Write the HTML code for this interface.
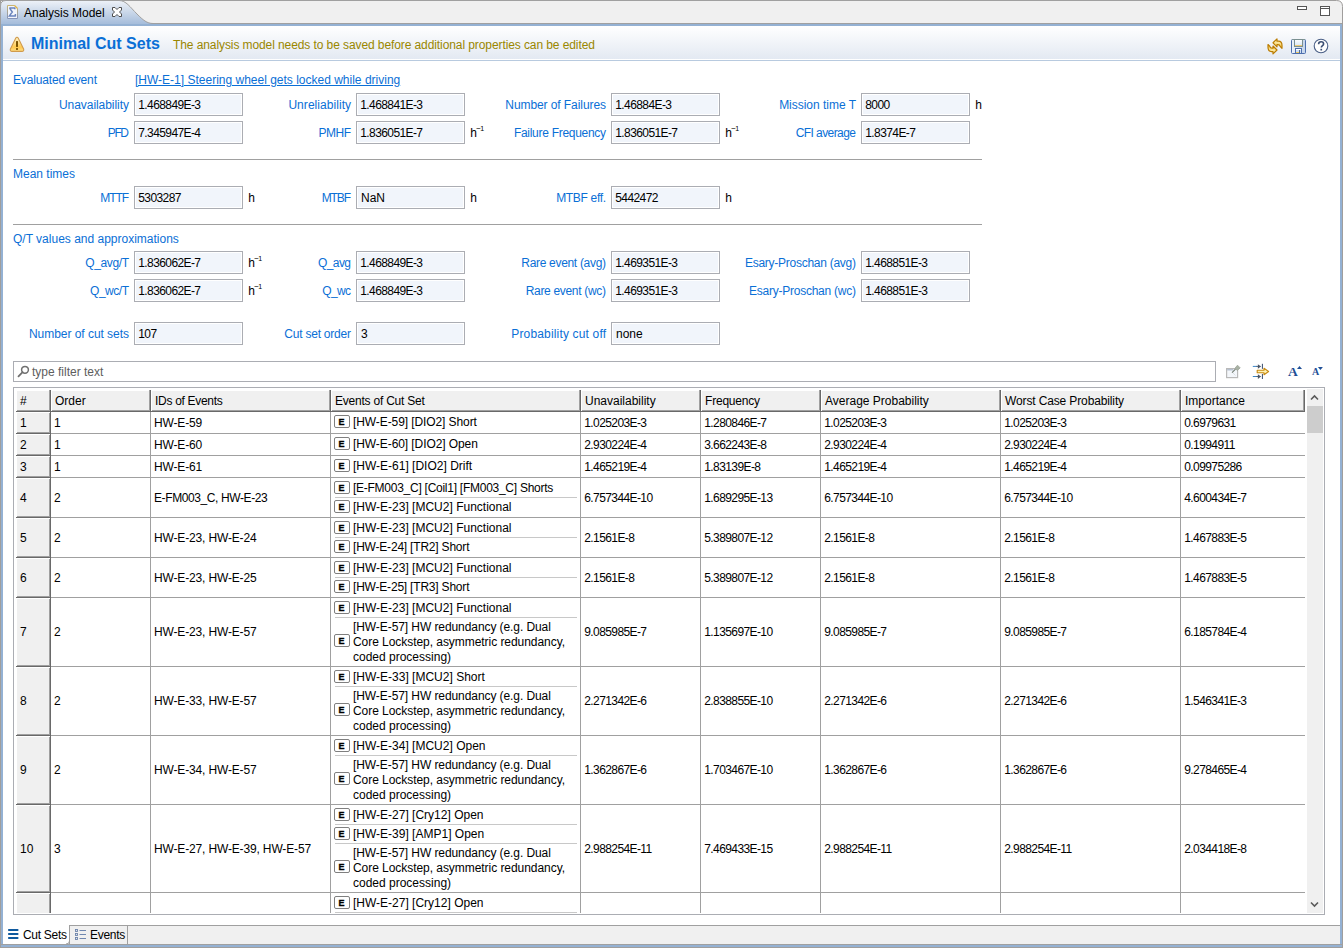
<!DOCTYPE html><html><head><meta charset="utf-8"><title>Analysis Model</title><style>
*{margin:0;padding:0;box-sizing:border-box}
html,body{width:1343px;height:948px;overflow:hidden}
body{position:relative;background:#fff;font:12px "Liberation Sans",Arial,sans-serif;color:#000}
.a{position:absolute}
.t{position:absolute;white-space:nowrap;line-height:14px;height:14px}
.lb{color:#0a6fd6}
.box{position:absolute;width:109px;height:23px;border:1px solid #abadb3;background:#f1f5fb;box-shadow:inset 0 0 0 1px #fff}
.sup{position:absolute;font-size:8px;line-height:8px;white-space:nowrap}
.eb{position:absolute;-webkit-text-stroke:0.35px #000;width:16px;height:13px;border:1px solid #7f7f7f;border-radius:2px;background:#fff;font:bold 9px "Liberation Sans",sans-serif;line-height:13px;text-align:center;padding-right:1px}
</style></head><body>
<div class="a" style="left:0px;top:0px;width:1343px;height:24px;background:#f0f0f0"></div>
<div class="a" style="left:0px;top:0px;width:1343px;height:1px;background:#a0a0a0;border-radius:0"></div>
<div class="a" style="left:0px;top:23px;width:1343px;height:1px;background:#a0a0a0"></div>
<div class="a" style="left:0px;top:24px;width:1343px;height:2px;background:#94b1d3"></div>
<div class="a" style="left:0px;top:0px;width:1px;height:948px;background:#a09e9d"></div>
<div class="a" style="left:1px;top:24px;width:2px;height:923px;background:#94b1d3"></div>
<div class="a" style="left:1340px;top:24px;width:2px;height:923px;background:#94b1d3"></div>
<div class="a" style="left:1342px;top:0px;width:1px;height:948px;background:#a09e9d"></div>
<div class="a" style="left:0px;top:944px;width:1343px;height:1px;background:#a0a0a0"></div>
<div class="a" style="left:1px;top:945px;width:1341px;height:2px;background:#94b1d3"></div>
<div class="a" style="left:0px;top:947px;width:1343px;height:1px;background:#a09e9d"></div>
<svg class="a" style="left:1333px;top:0" width="10" height="10" viewBox="0 0 10 10">
<rect x="0" y="0" width="10" height="10" fill="#ffffff"/>
<path d="M0,0.5 H3.5 Q9.5,0.5 9.5,6.5 V10 H0 Z" fill="#f0f0f0" stroke="none"/>
<path d="M0,0.5 H3.5 Q9.5,0.5 9.5,6.5 V10" fill="none" stroke="#a09e9d" stroke-width="1"/>
</svg>
<svg class="a" style="left:0;top:0" width="160" height="26" viewBox="0 0 160 26">
<defs><linearGradient id="tg" x1="0" y1="0" x2="0" y2="1"><stop offset="0" stop-color="#eef2f8"/><stop offset="1" stop-color="#9fb8d8"/></linearGradient></defs>
<path d="M0.5,26 L0.5,6 Q0.5,0.5 6,0.5 L119,0.5 C126,0.5 130,7 137,14 C143,20 147,23.5 153,23.5 L160,23.5 L160,26 Z" fill="url(#tg)" stroke="#a0a0a0" stroke-width="1"/>
<rect x="1" y="24" width="159" height="2" fill="#94b1d3"/>
</svg>
<svg class="a" style="left:7px;top:5px" width="11" height="14" viewBox="0 0 11 14">
<defs><linearGradient id="pg" x1="0" y1="0" x2="0" y2="1"><stop offset="0" stop-color="#c9b472"/><stop offset="1" stop-color="#8593b8"/></linearGradient></defs>
<path d="M0.5,0.5 H7.5 L10.5,3.5 V13.5 H0.5 Z" fill="#f3f6fc" stroke="url(#pg)"/>
<path d="M7.5,0.5 L10.5,3.5" fill="none" stroke="#e2b440" stroke-width="1.2"/>
<path d="M2.3,2.9 H8 M7.8,2.6 V4.2 M2.6,3.1 L5.3,7 L2.4,10.9 H8.7 M8.4,9.1 V11.6" fill="none" stroke="#6a84bd" stroke-width="1.5"/>
</svg>
<div class="t " style="left:24px;top:6px;color:#000">Analysis Model</div>
<svg class="a" style="left:112px;top:7px" width="10" height="10" viewBox="0 0 10 10">
<path d="M0.5,0.5 L3,0.5 L5,2.5 L7,0.5 L9.5,0.5 L9.5,3 L7.5,5 L9.5,7 L9.5,9.5 L7,9.5 L5,7.5 L3,9.5 L0.5,9.5 L0.5,7 L2.5,5 L0.5,3 Z" fill="#fff" stroke="#4e4e4e" stroke-width="1" stroke-linejoin="miter"/>
</svg>
<svg class="a" style="left:1296px;top:5px" width="36" height="12" viewBox="0 0 36 12">
<rect x="1.5" y="1.5" width="9" height="3" fill="#fff" stroke="#555"/>
<rect x="24.5" y="1.5" width="9" height="9" fill="#fff" stroke="#555"/>
<line x1="24.5" y1="3.5" x2="33.5" y2="3.5" stroke="#555"/>
</svg>
<div class="a" style="left:3px;top:26px;width:1337px;height:33px;background:linear-gradient(#ffffff,#e3e9f2)"></div>
<div class="a" style="left:3px;top:59px;width:1337px;height:1px;background:#ffffff"></div>
<div class="a" style="left:3px;top:60px;width:1337px;height:1px;background:#b8cadf"></div>
<svg class="a" style="left:9px;top:36px" width="16" height="17" viewBox="0 0 16 17">
<defs><linearGradient id="wg" x1="0" y1="0" x2="0" y2="1"><stop offset="0" stop-color="#fff6cc"/><stop offset="0.7" stop-color="#ffc94f"/><stop offset="1" stop-color="#ffe08a"/></linearGradient></defs>
<path d="M8,1.3 C8.6,1.3 9,1.7 9.3,2.3 L14.6,13 C15.1,14.3 14.4,15.4 13,15.4 H3 C1.6,15.4 0.9,14.3 1.4,13 L6.7,2.3 C7,1.7 7.4,1.3 8,1.3 Z" fill="url(#wg)" stroke="#d09a4c" stroke-width="1.1"/>
<rect x="7" y="5.1" width="2" height="5.8" fill="#7a5200"/>
<rect x="7" y="12.1" width="2" height="1.8" fill="#7a5200"/>
</svg>
<div class="t" style="left:31px;top:34px;font:bold 16px 'Liberation Sans',sans-serif;line-height:20px;height:20px;color:#0a6fd6">Minimal Cut Sets</div>
<div class="t " style="left:173px;top:38px;color:#9a8700;letter-spacing:-0.09px">The analysis model needs to be saved before additional properties can be edited</div>
<svg class="a" style="left:1265px;top:36px" width="20" height="20" viewBox="0 0 20 20">
<defs><linearGradient id="sg" x1="0" y1="0" x2="0" y2="1"><stop offset="0" stop-color="#fff8d0"/><stop offset="1" stop-color="#f5c842"/></linearGradient></defs>
<path d="M8,6.8 L12,2.9 L12,5.2 L13.5,5.2 C15.6,5.2 17,7 17,9.5 L17,12.3 L15.3,10.6 C14.9,9.3 14.2,8.6 13,8.6 L12,8.6 L12,10.8 Z" fill="url(#sg)" stroke="#bb7c00" stroke-width="1.2" stroke-linejoin="round"/>
<path transform="rotate(180 10 10.4)" d="M8,6.8 L12,2.9 L12,5.2 L13.5,5.2 C15.6,5.2 17,7 17,9.5 L17,12.3 L15.3,10.6 C14.9,9.3 14.2,8.6 13,8.6 L12,8.6 L12,10.8 Z" fill="url(#sg)" stroke="#bb7c00" stroke-width="1.2" stroke-linejoin="round"/>
</svg>
<svg class="a" style="left:1291px;top:39px" width="15" height="15" viewBox="0 0 15 15">
<defs><linearGradient id="fg" x1="0" y1="0" x2="1" y2="0"><stop offset="0" stop-color="#eef3fa"/><stop offset="1" stop-color="#c2d3ea"/></linearGradient>
<linearGradient id="lg2" x1="0" y1="0" x2="0" y2="1"><stop offset="0" stop-color="#ffffff"/><stop offset="1" stop-color="#d4e4f6"/></linearGradient></defs>
<rect x="0.5" y="0.5" width="14" height="14" rx="1" fill="url(#fg)" stroke="#4d6fae"/>
<path d="M1,0.5 H14" stroke="#7f9595"/>
<rect x="3.5" y="0.5" width="8" height="7" fill="url(#lg2)" stroke="#7a8f90"/>
<rect x="4" y="6" width="7" height="1" fill="#f0cc78"/>
<rect x="4.5" y="9.5" width="6" height="5" fill="#cfe0f5" stroke="#4d6fae"/>
<rect x="5" y="10" width="5" height="1" fill="#fff"/>
<rect x="5" y="13" width="3" height="1" fill="#f0c860"/>
<rect x="8" y="11" width="1" height="3" fill="#5a6e8e"/>
</svg>
<svg class="a" style="left:1313px;top:38px" width="16" height="16" viewBox="0 0 16 16">
<circle cx="8" cy="8" r="6.8" fill="#fff" stroke="#4a5f86" stroke-width="1.1"/>
<path d="M5.6,6.2 C5.6,4.6 6.7,3.7 8.1,3.7 C9.6,3.7 10.6,4.6 10.6,5.9 C10.6,7.6 8.3,7.8 8.3,9.6" fill="none" stroke="#3d4f73" stroke-width="1.6"/>
<rect x="7.4" y="10.8" width="1.7" height="1.7" fill="#3d4f73"/>
</svg>
<div class="t lb" style="left:13px;top:73px;letter-spacing:-0.15px">Evaluated event</div>
<div class="t" style="left:135px;top:73px;color:#0a6fd6;text-decoration:underline">[HW-E-1] Steering wheel gets locked while driving</div>
<div class="box" style="left:134px;top:93px"></div>
<div class="t lb" style="right:1214.05px;top:98px;letter-spacing:-0.05px;">Unavailability</div>
<div class="t " style="left:138.3px;top:98px;letter-spacing:-0.6px;">1.468849E-3</div>
<div class="box" style="left:356px;top:93px"></div>
<div class="t lb" style="right:991.95px;top:98px;letter-spacing:0.05px;">Unreliability</div>
<div class="t " style="left:360.3px;top:98px;letter-spacing:-0.6px;">1.468841E-3</div>
<div class="box" style="left:611px;top:93px"></div>
<div class="t lb" style="right:737.08px;top:98px;letter-spacing:-0.08px;">Number of Failures</div>
<div class="t " style="left:615.3px;top:98px;letter-spacing:-0.6px;">1.46884E-3</div>
<div class="box" style="left:861px;top:93px"></div>
<div class="t lb" style="right:487.02px;top:98px;letter-spacing:-0.02px;">Mission time T</div>
<div class="t " style="left:865.3px;top:98px;letter-spacing:-0.6px;">8000</div>
<div class="t " style="left:975.2px;top:98px;">h</div>
<div class="box" style="left:134px;top:121px"></div>
<div class="t lb" style="right:1215.40px;top:126px;letter-spacing:-1.40px;">PFD</div>
<div class="t " style="left:138.3px;top:126px;letter-spacing:-0.6px;">7.345947E-4</div>
<div class="box" style="left:356px;top:121px"></div>
<div class="t lb" style="right:992.47px;top:126px;letter-spacing:-0.47px;">PMHF</div>
<div class="t " style="left:360.3px;top:126px;letter-spacing:-0.6px;">1.836051E-7</div>
<div class="t " style="left:470.2px;top:126px;">h</div>
<div class="sup" style="left:476.2px;top:125px">&#8722;</div>
<div class="sup" style="left:480.2px;top:125px;font-size:7px">1</div>
<div class="box" style="left:611px;top:121px"></div>
<div class="t lb" style="right:737.29px;top:126px;letter-spacing:-0.29px;">Failure Frequency</div>
<div class="t " style="left:615.3px;top:126px;letter-spacing:-0.6px;">1.836051E-7</div>
<div class="t " style="left:725.2px;top:126px;">h</div>
<div class="sup" style="left:731.2px;top:125px">&#8722;</div>
<div class="sup" style="left:735.2px;top:125px;font-size:7px">1</div>
<div class="box" style="left:861px;top:121px"></div>
<div class="t lb" style="right:487.57px;top:126px;letter-spacing:-0.57px;">CFI average</div>
<div class="t " style="left:865.3px;top:126px;letter-spacing:-0.6px;">1.8374E-7</div>
<div class="a" style="left:13px;top:159px;width:969px;height:1px;background:#a0a0a0"></div>
<div class="t lb" style="left:13px;top:167px;">Mean times</div>
<div class="box" style="left:134px;top:186px"></div>
<div class="t lb" style="right:1215.10px;top:191px;letter-spacing:-1.10px;">MTTF</div>
<div class="t " style="left:138.3px;top:191px;letter-spacing:-0.6px;">5303287</div>
<div class="t " style="left:248.2px;top:191px;">h</div>
<div class="box" style="left:356px;top:186px"></div>
<div class="t lb" style="right:993.10px;top:191px;letter-spacing:-1.10px;">MTBF</div>
<div class="t " style="left:361px;top:191px;">NaN</div>
<div class="t " style="left:470.2px;top:191px;">h</div>
<div class="box" style="left:611px;top:186px"></div>
<div class="t lb" style="right:737.33px;top:191px;letter-spacing:-0.33px;">MTBF eff.</div>
<div class="t " style="left:615.3px;top:191px;letter-spacing:-0.6px;">5442472</div>
<div class="t " style="left:725.2px;top:191px;">h</div>
<div class="a" style="left:13px;top:224px;width:969px;height:1px;background:#a0a0a0"></div>
<div class="t lb" style="left:13px;top:232px;">Q/T values and approximations</div>
<div class="box" style="left:134px;top:251px"></div>
<div class="t lb" style="right:1214.37px;top:256px;letter-spacing:-0.37px;">Q_avg/T</div>
<div class="t " style="left:138.3px;top:256px;letter-spacing:-0.6px;">1.836062E-7</div>
<div class="t " style="left:248.2px;top:256px;">h</div>
<div class="sup" style="left:254.2px;top:255px">&#8722;</div>
<div class="sup" style="left:258.2px;top:255px;font-size:7px">1</div>
<div class="box" style="left:356px;top:251px"></div>
<div class="t lb" style="right:992.58px;top:256px;letter-spacing:-0.58px;">Q_avg</div>
<div class="t " style="left:360.3px;top:256px;letter-spacing:-0.6px;">1.468849E-3</div>
<div class="box" style="left:611px;top:251px"></div>
<div class="t lb" style="right:737.31px;top:256px;letter-spacing:-0.31px;">Rare event (avg)</div>
<div class="t " style="left:615.3px;top:256px;letter-spacing:-0.6px;">1.469351E-3</div>
<div class="box" style="left:861px;top:251px"></div>
<div class="t lb" style="right:487.26px;top:256px;letter-spacing:-0.26px;">Esary-Proschan (avg)</div>
<div class="t " style="left:865.3px;top:256px;letter-spacing:-0.6px;">1.468851E-3</div>
<div class="box" style="left:134px;top:279px"></div>
<div class="t lb" style="right:1214.48px;top:284px;letter-spacing:-0.48px;">Q_wc/T</div>
<div class="t " style="left:138.3px;top:284px;letter-spacing:-0.6px;">1.836062E-7</div>
<div class="t " style="left:248.2px;top:284px;">h</div>
<div class="sup" style="left:254.2px;top:283px">&#8722;</div>
<div class="sup" style="left:258.2px;top:283px;font-size:7px">1</div>
<div class="box" style="left:356px;top:279px"></div>
<div class="t lb" style="right:992.67px;top:284px;letter-spacing:-0.67px;">Q_wc</div>
<div class="t " style="left:360.3px;top:284px;letter-spacing:-0.6px;">1.468849E-3</div>
<div class="box" style="left:611px;top:279px"></div>
<div class="t lb" style="right:737.31px;top:284px;letter-spacing:-0.31px;">Rare event (wc)</div>
<div class="t " style="left:615.3px;top:284px;letter-spacing:-0.6px;">1.469351E-3</div>
<div class="box" style="left:861px;top:279px"></div>
<div class="t lb" style="right:487.24px;top:284px;letter-spacing:-0.24px;">Esary-Proschan (wc)</div>
<div class="t " style="left:865.3px;top:284px;letter-spacing:-0.6px;">1.468851E-3</div>
<div class="box" style="left:134px;top:322px"></div>
<div class="t lb" style="right:1214.04px;top:327px;letter-spacing:-0.04px;">Number of cut sets</div>
<div class="t " style="left:138.3px;top:327px;letter-spacing:-0.6px;">107</div>
<div class="box" style="left:356px;top:322px"></div>
<div class="t lb" style="right:992.22px;top:327px;letter-spacing:-0.22px;">Cut set order</div>
<div class="t " style="left:361px;top:327px;">3</div>
<div class="box" style="left:611px;top:322px"></div>
<div class="t lb" style="right:736.84px;top:327px;letter-spacing:0.16px;">Probability cut off</div>
<div class="t " style="left:616px;top:327px;">none</div>
<div class="a" style="left:13px;top:361px;width:1203px;height:21px;border:1px solid #abadb3;background:#fff"></div>
<svg class="a" style="left:17px;top:365px" width="13" height="13" viewBox="0 0 13 13">
<circle cx="8" cy="4.8" r="3.4" fill="none" stroke="#707070" stroke-width="1.5"/>
<path d="M5.6,7.2 L1.5,11.3" stroke="#707070" stroke-width="1.8" stroke-linecap="round"/>
</svg>
<div class="t " style="left:32px;top:365px;color:#5e5e5e">type filter text</div>
<svg class="a" style="left:1225px;top:364px" width="17" height="15" viewBox="0 0 17 15">
<rect x="1.6" y="4.6" width="11" height="9" fill="#f4f7fb" stroke="#b9b9b9" stroke-width="1.2"/>
<rect x="2.2" y="5.2" width="6" height="1.2" fill="#aab6c8"/>
<path d="M7.5,8.5 L10.5,11.5" stroke="#d4d8dc" stroke-width="0.8"/>
<path d="M7,8.7 L10.5,5.2" stroke="#707a70" stroke-width="1.1"/>
<path d="M10,4.2 L12.5,1.2 L15.2,3.9 L12.2,6.5 Z" fill="#a9b2a5" stroke="#9aa396" stroke-width="0.8"/>
</svg>
<svg class="a" style="left:1252px;top:363px" width="18" height="17" viewBox="0 0 18 17">
<path d="M0.8,3.4 H5" stroke="#3d86c6" stroke-width="1"/>
<path d="M4.5,3.4 H8.5" stroke="#55606e" stroke-width="1"/>
<path d="M5.9,1.2 L8.9,3.4 L5.9,5.8 Z" fill="#4a5565"/>
<path d="M10.4,0.8 V5.9" stroke="#34496a" stroke-width="1"/>
<path d="M0.8,13.5 H5" stroke="#3d86c6" stroke-width="1"/>
<path d="M4.5,13.5 H8.5" stroke="#55606e" stroke-width="1"/>
<path d="M5.9,11.3 L8.9,13.5 L5.9,15.9 Z" fill="#4a5565"/>
<path d="M10.4,10.9 V16" stroke="#34496a" stroke-width="1"/>
<path d="M5.2,7.2 H12 V5.2 L16.6,8.5 L12,11.7 V9.8 H5.2 Z" fill="#fff1b0" stroke="#c88a10" stroke-width="1.1" stroke-linejoin="round"/>
</svg>
<svg class="a" style="left:1284px;top:362px" width="42" height="18" viewBox="0 0 42 18">
<text x="4" y="14" font-family="Liberation Serif" font-weight="bold" font-size="13.5" fill="#1f4f96">A</text>
<path d="M13,6.9 L15.5,4 L18,6.9 Z" fill="#1f4f96"/>
<text x="28" y="13" font-family="Liberation Serif" font-weight="bold" font-size="10" fill="#1f4f96">A</text>
<path d="M33.9,4.9 L38.9,4.9 L36.4,8 Z" fill="#1f4f96"/>
</svg>
<div class="a" style="left:13px;top:387px;width:1312px;height:528px;border:1px solid #abadb3;background:#fff"></div>
<div class="a" style="left:17px;top:391px;width:1288px;height:19px;background:#f0f0f0"></div>
<div class="a" style="left:17px;top:410px;width:1288px;height:1px;background:#a0a0a0"></div>
<div class="a" style="left:16px;top:411px;width:1289px;height:1px;background:#696969"></div>
<div class="a" style="left:49px;top:390px;width:1px;height:21px;background:#a0a0a0"></div>
<div class="a" style="left:50px;top:390px;width:1px;height:22px;background:#696969"></div>
<div class="a" style="left:51px;top:390px;width:1px;height:21px;background:#ffffff"></div>
<div class="a" style="left:149px;top:390px;width:1px;height:21px;background:#a0a0a0"></div>
<div class="a" style="left:150px;top:390px;width:1px;height:22px;background:#696969"></div>
<div class="a" style="left:151px;top:390px;width:1px;height:21px;background:#ffffff"></div>
<div class="a" style="left:329px;top:390px;width:1px;height:21px;background:#a0a0a0"></div>
<div class="a" style="left:330px;top:390px;width:1px;height:22px;background:#696969"></div>
<div class="a" style="left:331px;top:390px;width:1px;height:21px;background:#ffffff"></div>
<div class="a" style="left:579px;top:390px;width:1px;height:21px;background:#a0a0a0"></div>
<div class="a" style="left:580px;top:390px;width:1px;height:22px;background:#696969"></div>
<div class="a" style="left:581px;top:390px;width:1px;height:21px;background:#ffffff"></div>
<div class="a" style="left:699px;top:390px;width:1px;height:21px;background:#a0a0a0"></div>
<div class="a" style="left:700px;top:390px;width:1px;height:22px;background:#696969"></div>
<div class="a" style="left:701px;top:390px;width:1px;height:21px;background:#ffffff"></div>
<div class="a" style="left:819px;top:390px;width:1px;height:21px;background:#a0a0a0"></div>
<div class="a" style="left:820px;top:390px;width:1px;height:22px;background:#696969"></div>
<div class="a" style="left:821px;top:390px;width:1px;height:21px;background:#ffffff"></div>
<div class="a" style="left:999px;top:390px;width:1px;height:21px;background:#a0a0a0"></div>
<div class="a" style="left:1000px;top:390px;width:1px;height:22px;background:#696969"></div>
<div class="a" style="left:1001px;top:390px;width:1px;height:21px;background:#ffffff"></div>
<div class="a" style="left:1179px;top:390px;width:1px;height:21px;background:#a0a0a0"></div>
<div class="a" style="left:1180px;top:390px;width:1px;height:22px;background:#696969"></div>
<div class="a" style="left:1181px;top:390px;width:1px;height:21px;background:#ffffff"></div>
<div class="a" style="left:1303px;top:390px;width:1px;height:21px;background:#a0a0a0"></div>
<div class="a" style="left:1304px;top:390px;width:1px;height:22px;background:#696969"></div>
<div class="t " style="left:20px;top:394px;">#</div>
<div class="t " style="left:55px;top:394px;">Order</div>
<div class="t " style="left:155px;top:394px;letter-spacing:-0.3px">IDs of Events</div>
<div class="t " style="left:335px;top:394px;letter-spacing:-0.22px">Events of Cut Set</div>
<div class="t " style="left:585px;top:394px;">Unavailability</div>
<div class="t " style="left:705px;top:394px;letter-spacing:-0.2px">Frequency</div>
<div class="t " style="left:825px;top:394px;">Average Probability</div>
<div class="t " style="left:1005px;top:394px;letter-spacing:-0.13px">Worst Case Probability</div>
<div class="t " style="left:1185px;top:394px;">Importance</div>
<div class="a" style="left:1307px;top:389px;width:16px;height:524px;background:#f0f0f0"></div>
<div class="a" style="left:1307px;top:406px;width:16px;height:27px;background:#cdcdcd"></div>
<svg class="a" style="left:1310px;top:394px" width="9" height="7" viewBox="0 0 9 7"><path d="M1,5.5 L4.5,2 L8,5.5" fill="none" stroke="#5a5a5a" stroke-width="1.6"/></svg>
<svg class="a" style="left:1310px;top:901px" width="9" height="7" viewBox="0 0 9 7"><path d="M1,1.5 L4.5,5 L8,1.5" fill="none" stroke="#5a5a5a" stroke-width="1.6"/></svg>
<div class="a" style="left:14px;top:412px;width:1292px;height:501px;overflow:hidden">
<div class="a" style="left:3px;top:0px;width:33px;height:1px;background:#ffffff"></div>
<div class="a" style="left:3px;top:1px;width:32px;height:20px;background:#f0f0f0"></div>
<div class="a" style="left:35px;top:1px;width:1px;height:21px;background:#a0a0a0"></div>
<div class="a" style="left:3px;top:20px;width:32px;height:1px;background:#a0a0a0"></div>
<div class="a" style="left:2px;top:21px;width:35px;height:1px;background:#696969"></div>
<div class="a" style="left:36px;top:0px;width:1px;height:22px;background:#696969"></div>
<div class="a" style="left:37px;top:21px;width:1254px;height:1px;background:#a0a0a0"></div>
<div class="a" style="left:136px;top:0px;width:1px;height:22px;background:#a0a0a0"></div>
<div class="a" style="left:316px;top:0px;width:1px;height:22px;background:#a0a0a0"></div>
<div class="a" style="left:566px;top:0px;width:1px;height:22px;background:#a0a0a0"></div>
<div class="a" style="left:686px;top:0px;width:1px;height:22px;background:#a0a0a0"></div>
<div class="a" style="left:806px;top:0px;width:1px;height:22px;background:#a0a0a0"></div>
<div class="a" style="left:986px;top:0px;width:1px;height:22px;background:#a0a0a0"></div>
<div class="a" style="left:1166px;top:0px;width:1px;height:22px;background:#a0a0a0"></div>
<div class="t" style="left:6px;top:4px;">1</div>
<div class="t" style="left:40px;top:4px;">1</div>
<div class="t" style="left:140px;top:4px;letter-spacing:-0.15px;">HW-E-59</div>
<div class="t" style="left:570.3px;top:4px;letter-spacing:-0.6px;">1.025203E-3</div>
<div class="t" style="left:690.3px;top:4px;letter-spacing:-0.6px;">1.280846E-7</div>
<div class="t" style="left:810.3px;top:4px;letter-spacing:-0.6px;">1.025203E-3</div>
<div class="t" style="left:990.3px;top:4px;letter-spacing:-0.6px;">1.025203E-3</div>
<div class="t" style="left:1170.3px;top:4px;letter-spacing:-0.6px;">0.6979631</div>
<div class="eb" style="left:320px;top:3px">E</div>
<div class="t" style="left:339px;top:3px;letter-spacing:-0.09px;">[HW-E-59] [DIO2] Short</div>
<div class="a" style="left:3px;top:22px;width:33px;height:1px;background:#ffffff"></div>
<div class="a" style="left:3px;top:23px;width:32px;height:20px;background:#f0f0f0"></div>
<div class="a" style="left:35px;top:23px;width:1px;height:21px;background:#a0a0a0"></div>
<div class="a" style="left:3px;top:42px;width:32px;height:1px;background:#a0a0a0"></div>
<div class="a" style="left:2px;top:43px;width:35px;height:1px;background:#696969"></div>
<div class="a" style="left:36px;top:22px;width:1px;height:22px;background:#696969"></div>
<div class="a" style="left:37px;top:43px;width:1254px;height:1px;background:#a0a0a0"></div>
<div class="a" style="left:136px;top:22px;width:1px;height:22px;background:#a0a0a0"></div>
<div class="a" style="left:316px;top:22px;width:1px;height:22px;background:#a0a0a0"></div>
<div class="a" style="left:566px;top:22px;width:1px;height:22px;background:#a0a0a0"></div>
<div class="a" style="left:686px;top:22px;width:1px;height:22px;background:#a0a0a0"></div>
<div class="a" style="left:806px;top:22px;width:1px;height:22px;background:#a0a0a0"></div>
<div class="a" style="left:986px;top:22px;width:1px;height:22px;background:#a0a0a0"></div>
<div class="a" style="left:1166px;top:22px;width:1px;height:22px;background:#a0a0a0"></div>
<div class="t" style="left:6px;top:26px;">2</div>
<div class="t" style="left:40px;top:26px;">1</div>
<div class="t" style="left:140px;top:26px;letter-spacing:-0.15px;">HW-E-60</div>
<div class="t" style="left:570.3px;top:26px;letter-spacing:-0.6px;">2.930224E-4</div>
<div class="t" style="left:690.3px;top:26px;letter-spacing:-0.6px;">3.662243E-8</div>
<div class="t" style="left:810.3px;top:26px;letter-spacing:-0.6px;">2.930224E-4</div>
<div class="t" style="left:990.3px;top:26px;letter-spacing:-0.6px;">2.930224E-4</div>
<div class="t" style="left:1170.3px;top:26px;letter-spacing:-0.6px;">0.1994911</div>
<div class="eb" style="left:320px;top:25px">E</div>
<div class="t" style="left:339px;top:25px;letter-spacing:-0.08px;">[HW-E-60] [DIO2] Open</div>
<div class="a" style="left:3px;top:44px;width:33px;height:1px;background:#ffffff"></div>
<div class="a" style="left:3px;top:45px;width:32px;height:20px;background:#f0f0f0"></div>
<div class="a" style="left:35px;top:45px;width:1px;height:21px;background:#a0a0a0"></div>
<div class="a" style="left:3px;top:64px;width:32px;height:1px;background:#a0a0a0"></div>
<div class="a" style="left:2px;top:65px;width:35px;height:1px;background:#696969"></div>
<div class="a" style="left:36px;top:44px;width:1px;height:22px;background:#696969"></div>
<div class="a" style="left:37px;top:65px;width:1254px;height:1px;background:#a0a0a0"></div>
<div class="a" style="left:136px;top:44px;width:1px;height:22px;background:#a0a0a0"></div>
<div class="a" style="left:316px;top:44px;width:1px;height:22px;background:#a0a0a0"></div>
<div class="a" style="left:566px;top:44px;width:1px;height:22px;background:#a0a0a0"></div>
<div class="a" style="left:686px;top:44px;width:1px;height:22px;background:#a0a0a0"></div>
<div class="a" style="left:806px;top:44px;width:1px;height:22px;background:#a0a0a0"></div>
<div class="a" style="left:986px;top:44px;width:1px;height:22px;background:#a0a0a0"></div>
<div class="a" style="left:1166px;top:44px;width:1px;height:22px;background:#a0a0a0"></div>
<div class="t" style="left:6px;top:48px;">3</div>
<div class="t" style="left:40px;top:48px;">1</div>
<div class="t" style="left:140px;top:48px;letter-spacing:-0.15px;">HW-E-61</div>
<div class="t" style="left:570.3px;top:48px;letter-spacing:-0.6px;">1.465219E-4</div>
<div class="t" style="left:690.3px;top:48px;letter-spacing:-0.6px;">1.83139E-8</div>
<div class="t" style="left:810.3px;top:48px;letter-spacing:-0.6px;">1.465219E-4</div>
<div class="t" style="left:990.3px;top:48px;letter-spacing:-0.6px;">1.465219E-4</div>
<div class="t" style="left:1170.3px;top:48px;letter-spacing:-0.6px;">0.09975286</div>
<div class="eb" style="left:320px;top:47px">E</div>
<div class="t" style="left:339px;top:47px;">[HW-E-61] [DIO2] Drift</div>
<div class="a" style="left:3px;top:66px;width:33px;height:1px;background:#ffffff"></div>
<div class="a" style="left:3px;top:67px;width:32px;height:38px;background:#f0f0f0"></div>
<div class="a" style="left:35px;top:67px;width:1px;height:39px;background:#a0a0a0"></div>
<div class="a" style="left:3px;top:104px;width:32px;height:1px;background:#a0a0a0"></div>
<div class="a" style="left:2px;top:105px;width:35px;height:1px;background:#696969"></div>
<div class="a" style="left:36px;top:66px;width:1px;height:40px;background:#696969"></div>
<div class="a" style="left:37px;top:105px;width:1254px;height:1px;background:#a0a0a0"></div>
<div class="a" style="left:136px;top:66px;width:1px;height:40px;background:#a0a0a0"></div>
<div class="a" style="left:316px;top:66px;width:1px;height:40px;background:#a0a0a0"></div>
<div class="a" style="left:566px;top:66px;width:1px;height:40px;background:#a0a0a0"></div>
<div class="a" style="left:686px;top:66px;width:1px;height:40px;background:#a0a0a0"></div>
<div class="a" style="left:806px;top:66px;width:1px;height:40px;background:#a0a0a0"></div>
<div class="a" style="left:986px;top:66px;width:1px;height:40px;background:#a0a0a0"></div>
<div class="a" style="left:1166px;top:66px;width:1px;height:40px;background:#a0a0a0"></div>
<div class="t" style="left:6px;top:79px;">4</div>
<div class="t" style="left:40px;top:79px;">2</div>
<div class="t" style="left:140px;top:79px;letter-spacing:-0.4px;">E-FM003_C, HW-E-23</div>
<div class="t" style="left:570.3px;top:79px;letter-spacing:-0.6px;">6.757344E-10</div>
<div class="t" style="left:690.3px;top:79px;letter-spacing:-0.6px;">1.689295E-13</div>
<div class="t" style="left:810.3px;top:79px;letter-spacing:-0.6px;">6.757344E-10</div>
<div class="t" style="left:990.3px;top:79px;letter-spacing:-0.6px;">6.757344E-10</div>
<div class="t" style="left:1170.3px;top:79px;letter-spacing:-0.6px;">4.600434E-7</div>
<div class="eb" style="left:320px;top:69px">E</div>
<div class="t" style="left:339px;top:69px;letter-spacing:-0.26px;">[E-FM003_C] [Coil1] [FM003_C] Shorts</div>
<div class="a" style="left:321px;top:85px;width:242px;height:1px;background:#c8c8c8"></div>
<div class="eb" style="left:320px;top:88px">E</div>
<div class="t" style="left:339px;top:88px;">[HW-E-23] [MCU2] Functional</div>
<div class="a" style="left:3px;top:106px;width:33px;height:1px;background:#ffffff"></div>
<div class="a" style="left:3px;top:107px;width:32px;height:38px;background:#f0f0f0"></div>
<div class="a" style="left:35px;top:107px;width:1px;height:39px;background:#a0a0a0"></div>
<div class="a" style="left:3px;top:144px;width:32px;height:1px;background:#a0a0a0"></div>
<div class="a" style="left:2px;top:145px;width:35px;height:1px;background:#696969"></div>
<div class="a" style="left:36px;top:106px;width:1px;height:40px;background:#696969"></div>
<div class="a" style="left:37px;top:145px;width:1254px;height:1px;background:#a0a0a0"></div>
<div class="a" style="left:136px;top:106px;width:1px;height:40px;background:#a0a0a0"></div>
<div class="a" style="left:316px;top:106px;width:1px;height:40px;background:#a0a0a0"></div>
<div class="a" style="left:566px;top:106px;width:1px;height:40px;background:#a0a0a0"></div>
<div class="a" style="left:686px;top:106px;width:1px;height:40px;background:#a0a0a0"></div>
<div class="a" style="left:806px;top:106px;width:1px;height:40px;background:#a0a0a0"></div>
<div class="a" style="left:986px;top:106px;width:1px;height:40px;background:#a0a0a0"></div>
<div class="a" style="left:1166px;top:106px;width:1px;height:40px;background:#a0a0a0"></div>
<div class="t" style="left:6px;top:119px;">5</div>
<div class="t" style="left:40px;top:119px;">2</div>
<div class="t" style="left:140px;top:119px;letter-spacing:-0.15px;">HW-E-23, HW-E-24</div>
<div class="t" style="left:570.3px;top:119px;letter-spacing:-0.6px;">2.1561E-8</div>
<div class="t" style="left:690.3px;top:119px;letter-spacing:-0.6px;">5.389807E-12</div>
<div class="t" style="left:810.3px;top:119px;letter-spacing:-0.6px;">2.1561E-8</div>
<div class="t" style="left:990.3px;top:119px;letter-spacing:-0.6px;">2.1561E-8</div>
<div class="t" style="left:1170.3px;top:119px;letter-spacing:-0.6px;">1.467883E-5</div>
<div class="eb" style="left:320px;top:109px">E</div>
<div class="t" style="left:339px;top:109px;">[HW-E-23] [MCU2] Functional</div>
<div class="a" style="left:321px;top:125px;width:242px;height:1px;background:#c8c8c8"></div>
<div class="eb" style="left:320px;top:128px">E</div>
<div class="t" style="left:339px;top:128px;letter-spacing:-0.2px;">[HW-E-24] [TR2] Short</div>
<div class="a" style="left:3px;top:146px;width:33px;height:1px;background:#ffffff"></div>
<div class="a" style="left:3px;top:147px;width:32px;height:38px;background:#f0f0f0"></div>
<div class="a" style="left:35px;top:147px;width:1px;height:39px;background:#a0a0a0"></div>
<div class="a" style="left:3px;top:184px;width:32px;height:1px;background:#a0a0a0"></div>
<div class="a" style="left:2px;top:185px;width:35px;height:1px;background:#696969"></div>
<div class="a" style="left:36px;top:146px;width:1px;height:40px;background:#696969"></div>
<div class="a" style="left:37px;top:185px;width:1254px;height:1px;background:#a0a0a0"></div>
<div class="a" style="left:136px;top:146px;width:1px;height:40px;background:#a0a0a0"></div>
<div class="a" style="left:316px;top:146px;width:1px;height:40px;background:#a0a0a0"></div>
<div class="a" style="left:566px;top:146px;width:1px;height:40px;background:#a0a0a0"></div>
<div class="a" style="left:686px;top:146px;width:1px;height:40px;background:#a0a0a0"></div>
<div class="a" style="left:806px;top:146px;width:1px;height:40px;background:#a0a0a0"></div>
<div class="a" style="left:986px;top:146px;width:1px;height:40px;background:#a0a0a0"></div>
<div class="a" style="left:1166px;top:146px;width:1px;height:40px;background:#a0a0a0"></div>
<div class="t" style="left:6px;top:159px;">6</div>
<div class="t" style="left:40px;top:159px;">2</div>
<div class="t" style="left:140px;top:159px;letter-spacing:-0.15px;">HW-E-23, HW-E-25</div>
<div class="t" style="left:570.3px;top:159px;letter-spacing:-0.6px;">2.1561E-8</div>
<div class="t" style="left:690.3px;top:159px;letter-spacing:-0.6px;">5.389807E-12</div>
<div class="t" style="left:810.3px;top:159px;letter-spacing:-0.6px;">2.1561E-8</div>
<div class="t" style="left:990.3px;top:159px;letter-spacing:-0.6px;">2.1561E-8</div>
<div class="t" style="left:1170.3px;top:159px;letter-spacing:-0.6px;">1.467883E-5</div>
<div class="eb" style="left:320px;top:149px">E</div>
<div class="t" style="left:339px;top:149px;">[HW-E-23] [MCU2] Functional</div>
<div class="a" style="left:321px;top:165px;width:242px;height:1px;background:#c8c8c8"></div>
<div class="eb" style="left:320px;top:168px">E</div>
<div class="t" style="left:339px;top:168px;letter-spacing:-0.2px;">[HW-E-25] [TR3] Short</div>
<div class="a" style="left:3px;top:186px;width:33px;height:1px;background:#ffffff"></div>
<div class="a" style="left:3px;top:187px;width:32px;height:67px;background:#f0f0f0"></div>
<div class="a" style="left:35px;top:187px;width:1px;height:68px;background:#a0a0a0"></div>
<div class="a" style="left:3px;top:253px;width:32px;height:1px;background:#a0a0a0"></div>
<div class="a" style="left:2px;top:254px;width:35px;height:1px;background:#696969"></div>
<div class="a" style="left:36px;top:186px;width:1px;height:69px;background:#696969"></div>
<div class="a" style="left:37px;top:254px;width:1254px;height:1px;background:#a0a0a0"></div>
<div class="a" style="left:136px;top:186px;width:1px;height:69px;background:#a0a0a0"></div>
<div class="a" style="left:316px;top:186px;width:1px;height:69px;background:#a0a0a0"></div>
<div class="a" style="left:566px;top:186px;width:1px;height:69px;background:#a0a0a0"></div>
<div class="a" style="left:686px;top:186px;width:1px;height:69px;background:#a0a0a0"></div>
<div class="a" style="left:806px;top:186px;width:1px;height:69px;background:#a0a0a0"></div>
<div class="a" style="left:986px;top:186px;width:1px;height:69px;background:#a0a0a0"></div>
<div class="a" style="left:1166px;top:186px;width:1px;height:69px;background:#a0a0a0"></div>
<div class="t" style="left:6px;top:213px;">7</div>
<div class="t" style="left:40px;top:213px;">2</div>
<div class="t" style="left:140px;top:213px;letter-spacing:-0.15px;">HW-E-23, HW-E-57</div>
<div class="t" style="left:570.3px;top:213px;letter-spacing:-0.6px;">9.085985E-7</div>
<div class="t" style="left:690.3px;top:213px;letter-spacing:-0.6px;">1.135697E-10</div>
<div class="t" style="left:810.3px;top:213px;letter-spacing:-0.6px;">9.085985E-7</div>
<div class="t" style="left:990.3px;top:213px;letter-spacing:-0.6px;">9.085985E-7</div>
<div class="t" style="left:1170.3px;top:213px;letter-spacing:-0.6px;">6.185784E-4</div>
<div class="eb" style="left:320px;top:189px">E</div>
<div class="t" style="left:339px;top:189px;">[HW-E-23] [MCU2] Functional</div>
<div class="a" style="left:321px;top:205px;width:242px;height:1px;background:#c8c8c8"></div>
<div class="eb" style="left:320px;top:222px">E</div>
<div class="t" style="left:339px;top:208px;letter-spacing:-0.08px;">[HW-E-57] HW redundancy (e.g. Dual</div>
<div class="t" style="left:339px;top:223px;letter-spacing:-0.05px;">Core Lockstep, asymmetric redundancy,</div>
<div class="t" style="left:339px;top:238px;">coded processing)</div>
<div class="a" style="left:3px;top:255px;width:33px;height:1px;background:#ffffff"></div>
<div class="a" style="left:3px;top:256px;width:32px;height:67px;background:#f0f0f0"></div>
<div class="a" style="left:35px;top:256px;width:1px;height:68px;background:#a0a0a0"></div>
<div class="a" style="left:3px;top:322px;width:32px;height:1px;background:#a0a0a0"></div>
<div class="a" style="left:2px;top:323px;width:35px;height:1px;background:#696969"></div>
<div class="a" style="left:36px;top:255px;width:1px;height:69px;background:#696969"></div>
<div class="a" style="left:37px;top:323px;width:1254px;height:1px;background:#a0a0a0"></div>
<div class="a" style="left:136px;top:255px;width:1px;height:69px;background:#a0a0a0"></div>
<div class="a" style="left:316px;top:255px;width:1px;height:69px;background:#a0a0a0"></div>
<div class="a" style="left:566px;top:255px;width:1px;height:69px;background:#a0a0a0"></div>
<div class="a" style="left:686px;top:255px;width:1px;height:69px;background:#a0a0a0"></div>
<div class="a" style="left:806px;top:255px;width:1px;height:69px;background:#a0a0a0"></div>
<div class="a" style="left:986px;top:255px;width:1px;height:69px;background:#a0a0a0"></div>
<div class="a" style="left:1166px;top:255px;width:1px;height:69px;background:#a0a0a0"></div>
<div class="t" style="left:6px;top:282px;">8</div>
<div class="t" style="left:40px;top:282px;">2</div>
<div class="t" style="left:140px;top:282px;letter-spacing:-0.15px;">HW-E-33, HW-E-57</div>
<div class="t" style="left:570.3px;top:282px;letter-spacing:-0.6px;">2.271342E-6</div>
<div class="t" style="left:690.3px;top:282px;letter-spacing:-0.6px;">2.838855E-10</div>
<div class="t" style="left:810.3px;top:282px;letter-spacing:-0.6px;">2.271342E-6</div>
<div class="t" style="left:990.3px;top:282px;letter-spacing:-0.6px;">2.271342E-6</div>
<div class="t" style="left:1170.3px;top:282px;letter-spacing:-0.6px;">1.546341E-3</div>
<div class="eb" style="left:320px;top:258px">E</div>
<div class="t" style="left:339px;top:258px;">[HW-E-33] [MCU2] Short</div>
<div class="a" style="left:321px;top:274px;width:242px;height:1px;background:#c8c8c8"></div>
<div class="eb" style="left:320px;top:291px">E</div>
<div class="t" style="left:339px;top:277px;letter-spacing:-0.08px;">[HW-E-57] HW redundancy (e.g. Dual</div>
<div class="t" style="left:339px;top:292px;letter-spacing:-0.05px;">Core Lockstep, asymmetric redundancy,</div>
<div class="t" style="left:339px;top:307px;">coded processing)</div>
<div class="a" style="left:3px;top:324px;width:33px;height:1px;background:#ffffff"></div>
<div class="a" style="left:3px;top:325px;width:32px;height:67px;background:#f0f0f0"></div>
<div class="a" style="left:35px;top:325px;width:1px;height:68px;background:#a0a0a0"></div>
<div class="a" style="left:3px;top:391px;width:32px;height:1px;background:#a0a0a0"></div>
<div class="a" style="left:2px;top:392px;width:35px;height:1px;background:#696969"></div>
<div class="a" style="left:36px;top:324px;width:1px;height:69px;background:#696969"></div>
<div class="a" style="left:37px;top:392px;width:1254px;height:1px;background:#a0a0a0"></div>
<div class="a" style="left:136px;top:324px;width:1px;height:69px;background:#a0a0a0"></div>
<div class="a" style="left:316px;top:324px;width:1px;height:69px;background:#a0a0a0"></div>
<div class="a" style="left:566px;top:324px;width:1px;height:69px;background:#a0a0a0"></div>
<div class="a" style="left:686px;top:324px;width:1px;height:69px;background:#a0a0a0"></div>
<div class="a" style="left:806px;top:324px;width:1px;height:69px;background:#a0a0a0"></div>
<div class="a" style="left:986px;top:324px;width:1px;height:69px;background:#a0a0a0"></div>
<div class="a" style="left:1166px;top:324px;width:1px;height:69px;background:#a0a0a0"></div>
<div class="t" style="left:6px;top:351px;">9</div>
<div class="t" style="left:40px;top:351px;">2</div>
<div class="t" style="left:140px;top:351px;letter-spacing:-0.15px;">HW-E-34, HW-E-57</div>
<div class="t" style="left:570.3px;top:351px;letter-spacing:-0.6px;">1.362867E-6</div>
<div class="t" style="left:690.3px;top:351px;letter-spacing:-0.6px;">1.703467E-10</div>
<div class="t" style="left:810.3px;top:351px;letter-spacing:-0.6px;">1.362867E-6</div>
<div class="t" style="left:990.3px;top:351px;letter-spacing:-0.6px;">1.362867E-6</div>
<div class="t" style="left:1170.3px;top:351px;letter-spacing:-0.6px;">9.278465E-4</div>
<div class="eb" style="left:320px;top:327px">E</div>
<div class="t" style="left:339px;top:327px;">[HW-E-34] [MCU2] Open</div>
<div class="a" style="left:321px;top:343px;width:242px;height:1px;background:#c8c8c8"></div>
<div class="eb" style="left:320px;top:360px">E</div>
<div class="t" style="left:339px;top:346px;letter-spacing:-0.08px;">[HW-E-57] HW redundancy (e.g. Dual</div>
<div class="t" style="left:339px;top:361px;letter-spacing:-0.05px;">Core Lockstep, asymmetric redundancy,</div>
<div class="t" style="left:339px;top:376px;">coded processing)</div>
<div class="a" style="left:3px;top:393px;width:33px;height:1px;background:#ffffff"></div>
<div class="a" style="left:3px;top:394px;width:32px;height:86px;background:#f0f0f0"></div>
<div class="a" style="left:35px;top:394px;width:1px;height:87px;background:#a0a0a0"></div>
<div class="a" style="left:3px;top:479px;width:32px;height:1px;background:#a0a0a0"></div>
<div class="a" style="left:2px;top:480px;width:35px;height:1px;background:#696969"></div>
<div class="a" style="left:36px;top:393px;width:1px;height:88px;background:#696969"></div>
<div class="a" style="left:37px;top:480px;width:1254px;height:1px;background:#a0a0a0"></div>
<div class="a" style="left:136px;top:393px;width:1px;height:88px;background:#a0a0a0"></div>
<div class="a" style="left:316px;top:393px;width:1px;height:88px;background:#a0a0a0"></div>
<div class="a" style="left:566px;top:393px;width:1px;height:88px;background:#a0a0a0"></div>
<div class="a" style="left:686px;top:393px;width:1px;height:88px;background:#a0a0a0"></div>
<div class="a" style="left:806px;top:393px;width:1px;height:88px;background:#a0a0a0"></div>
<div class="a" style="left:986px;top:393px;width:1px;height:88px;background:#a0a0a0"></div>
<div class="a" style="left:1166px;top:393px;width:1px;height:88px;background:#a0a0a0"></div>
<div class="t" style="left:6px;top:430px;">10</div>
<div class="t" style="left:40px;top:430px;">3</div>
<div class="t" style="left:140px;top:430px;letter-spacing:-0.15px;">HW-E-27, HW-E-39, HW-E-57</div>
<div class="t" style="left:570.3px;top:430px;letter-spacing:-0.6px;">2.988254E-11</div>
<div class="t" style="left:690.3px;top:430px;letter-spacing:-0.6px;">7.469433E-15</div>
<div class="t" style="left:810.3px;top:430px;letter-spacing:-0.6px;">2.988254E-11</div>
<div class="t" style="left:990.3px;top:430px;letter-spacing:-0.6px;">2.988254E-11</div>
<div class="t" style="left:1170.3px;top:430px;letter-spacing:-0.6px;">2.034418E-8</div>
<div class="eb" style="left:320px;top:396px">E</div>
<div class="t" style="left:339px;top:396px;">[HW-E-27] [Cry12] Open</div>
<div class="a" style="left:321px;top:412px;width:242px;height:1px;background:#c8c8c8"></div>
<div class="eb" style="left:320px;top:415px">E</div>
<div class="t" style="left:339px;top:415px;">[HW-E-39] [AMP1] Open</div>
<div class="a" style="left:321px;top:431px;width:242px;height:1px;background:#c8c8c8"></div>
<div class="eb" style="left:320px;top:448px">E</div>
<div class="t" style="left:339px;top:434px;letter-spacing:-0.08px;">[HW-E-57] HW redundancy (e.g. Dual</div>
<div class="t" style="left:339px;top:449px;letter-spacing:-0.05px;">Core Lockstep, asymmetric redundancy,</div>
<div class="t" style="left:339px;top:464px;">coded processing)</div>
<div class="a" style="left:3px;top:481px;width:33px;height:1px;background:#ffffff"></div>
<div class="a" style="left:3px;top:482px;width:32px;height:20px;background:#f0f0f0"></div>
<div class="a" style="left:35px;top:482px;width:1px;height:21px;background:#a0a0a0"></div>
<div class="a" style="left:3px;top:501px;width:32px;height:1px;background:#a0a0a0"></div>
<div class="a" style="left:2px;top:502px;width:35px;height:1px;background:#696969"></div>
<div class="a" style="left:36px;top:481px;width:1px;height:22px;background:#696969"></div>
<div class="a" style="left:37px;top:502px;width:1254px;height:1px;background:#a0a0a0"></div>
<div class="a" style="left:136px;top:481px;width:1px;height:22px;background:#a0a0a0"></div>
<div class="a" style="left:316px;top:481px;width:1px;height:22px;background:#a0a0a0"></div>
<div class="a" style="left:566px;top:481px;width:1px;height:22px;background:#a0a0a0"></div>
<div class="a" style="left:686px;top:481px;width:1px;height:22px;background:#a0a0a0"></div>
<div class="a" style="left:806px;top:481px;width:1px;height:22px;background:#a0a0a0"></div>
<div class="a" style="left:986px;top:481px;width:1px;height:22px;background:#a0a0a0"></div>
<div class="a" style="left:1166px;top:481px;width:1px;height:22px;background:#a0a0a0"></div>
<div class="t" style="left:6px;top:485px;"></div>
<div class="t" style="left:40px;top:485px;"></div>
<div class="t" style="left:140px;top:485px;"></div>
<div class="t" style="left:571px;top:485px;"></div>
<div class="t" style="left:691px;top:485px;"></div>
<div class="t" style="left:811px;top:485px;"></div>
<div class="t" style="left:991px;top:485px;"></div>
<div class="t" style="left:1171px;top:485px;"></div>
<div class="eb" style="left:320px;top:484px">E</div>
<div class="t" style="left:339px;top:484px;">[HW-E-27] [Cry12] Open</div>
<div class="a" style="left:321px;top:500px;width:242px;height:1px;background:#c8c8c8"></div>
</div>
<div class="a" style="left:3px;top:925px;width:1337px;height:1px;background:#a0a0a0"></div>
<div class="a" style="left:3px;top:926px;width:1337px;height:18px;background:#f0f0f0"></div>
<svg class="a" style="left:3px;top:925px" width="68" height="20" viewBox="0 0 68 20">
<path d="M0,0 H66 V16 Q66,19 63,19 H0 Z" fill="#fff"/>
<path d="M66.5,0 V16 Q66.5,19 63,19" fill="none" stroke="#a0a0a0"/>
</svg>
<div class="a" style="left:69px;top:925px;width:1px;height:19px;background:#a0a0a0"></div>
<div class="a" style="left:127px;top:925px;width:1px;height:19px;background:#a0a0a0"></div>
<svg class="a" style="left:8px;top:929px" width="11" height="10" viewBox="0 0 11 10">
<rect x="0" y="0" width="10.5" height="2" rx="0.8" fill="#0f5a9e"/>
<rect x="0" y="4" width="10.5" height="2" rx="0.8" fill="#0f5a9e"/>
<rect x="0" y="8" width="10.5" height="2" rx="0.8" fill="#0f5a9e"/>
</svg>
<div class="t " style="left:23px;top:928px;letter-spacing:-0.3px">Cut Sets</div>
<svg class="a" style="left:75px;top:929px" width="12" height="11" viewBox="0 0 12 11">
<rect x="0.5" y="0.5" width="2" height="2" fill="#dfe6f0" stroke="#6d84aa" stroke-width="0.9"/>
<rect x="0.5" y="4.5" width="2" height="2" fill="#dfe6f0" stroke="#6d84aa" stroke-width="0.9"/>
<rect x="0.5" y="8.5" width="2" height="2" fill="#dfe6f0" stroke="#6d84aa" stroke-width="0.9"/>
<path d="M4.5,1.5 H11 M4.5,5.5 H11 M4.5,9.5 H11" stroke="#7088b0" stroke-width="1"/>
</svg>
<div class="t " style="left:90px;top:928px;letter-spacing:-0.3px">Events</div>
</body></html>
